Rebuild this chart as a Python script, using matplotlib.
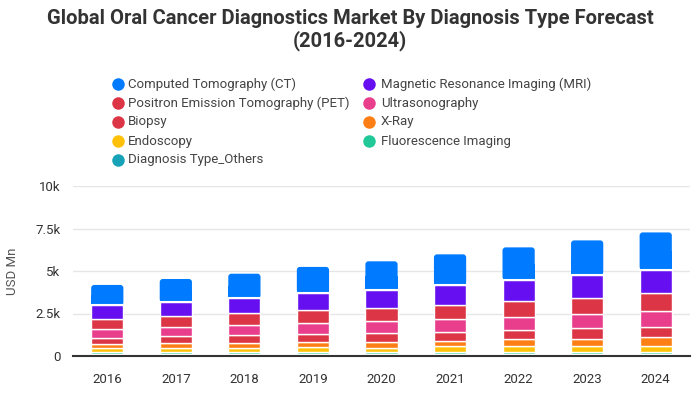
import matplotlib
matplotlib.use("Agg")
import matplotlib.pyplot as plt
from matplotlib.patches import FancyBboxPatch, Rectangle
from matplotlib.lines import Line2D
from matplotlib.ticker import FixedLocator

plt.rcParams["font.family"] = ["Roboto", "DejaVu Sans"]

years = ["2016", "2017", "2018", "2019", "2020", "2021", "2022", "2023", "2024"]

# USD Mn (stacked bottom -> top)
others = [100, 100, 100, 100, 100, 100, 100, 100, 100]
fluorescence = [120, 120, 120, 120, 150, 150, 150, 150, 150]
endoscopy = [230, 250, 250, 290, 240, 320, 320, 360, 360]
xray = [240, 290, 290, 310, 350, 330, 410, 410, 490]
biopsy = [350, 420, 460, 470, 530, 530, 570, 650, 630]
ultrasonography = [530, 530, 580, 630, 710, 770, 760, 820, 900]
pet = [590, 620, 710, 790, 760, 820, 940, 940, 1060]
mri = [820, 850, 880, 1000, 1060, 1180, 1240, 1350, 1390]
ct = [1200, 1350, 1450, 1530, 1670, 1780, 1900, 2020, 2190]

# legend order (top of stack first)
series = [
    ("Computed Tomography (CT)", ct, "#007bff"),
    ("Magnetic Resonance Imaging (MRI)", mri, "#6610f2"),
    ("Positron Emission Tomography (PET)", pet, "#dc3545"),
    ("Ultrasonography", ultrasonography, "#e83e8c"),
    ("Biopsy", biopsy, "#dc3545"),
    ("X-Ray", xray, "#fd7e14"),
    ("Endoscopy", endoscopy, "#ffc107"),
    ("Fluorescence Imaging", fluorescence, "#20c997"),
    ("Diagnosis Type_Others", others, "#17a2b8"),
]

fig = plt.figure(figsize=(7, 4), dpi=100)
ax = fig.add_axes([73 / 700, 1 - 356 / 400, 617 / 700, 170 / 400])

x = list(range(len(years)))
width = 0.47
bottom = [0] * len(years)
for name, vals, color in reversed(series):
    bars = ax.bar(x, vals, width, bottom=bottom, color=color,
                  edgecolor="white", linewidth=1, zorder=3)
    if name.startswith("Computed"):
        # rounded top corners for the top segment
        rx = 0.045
        ry = 180
        for p in bars.patches:
            p.set_visible(False)
            bx, by, bw, bh = p.get_x(), p.get_y(), p.get_width(), p.get_height()
            ax.add_patch(FancyBboxPatch((bx, by), bw, bh,
                                        boxstyle=f"round,pad=0,rounding_size={rx}",
                                        mutation_aspect=ry / rx,
                                        facecolor=color, edgecolor="none", zorder=3))
            ax.add_patch(Rectangle((bx, by), bw, bh / 2, facecolor=color,
                                   edgecolor="none", zorder=3))
            ax.plot([bx, bx + bw], [by, by], color="white", lw=1.5, zorder=4)
    bottom = [b + v for b, v in zip(bottom, vals)]

ax.set_xlim(-0.5, len(years) - 0.5)
ax.set_ylim(0, 10000)
ax.set_xticks(x)
ax.set_xticklabels(years)
ax.yaxis.set_major_locator(FixedLocator([0, 2500, 5000, 7500, 10000]))
ax.set_yticklabels(["0", "2.5k", "5k", "7.5k", "10k"])
ax.tick_params(length=0, labelsize=9.5, colors="#333333", pad=9)
ax.tick_params(axis="x", pad=12)
ax.grid(axis="y", color="#e6e6e6", linewidth=1, zorder=0)
for s in ["top", "right", "left"]:
    ax.spines[s].set_visible(False)
ax.spines["bottom"].set_color("#333333")
ax.spines["bottom"].set_linewidth(1.5)
ax.spines["bottom"].set_zorder(5)
ax.set_ylabel("USD Mn", fontsize=9.5, color="#555555", labelpad=12)

# legend as two columns of circle markers
cols = [(118, 128), (369, 381)]
for i, (name, vals, color) in enumerate(series):
    col = i % 2
    row = i // 2
    mx, tx = cols[col]
    yy = 1 - (84 + 19 * row) / 400
    fig.add_artist(Line2D([mx / 700], [yy], marker="o", markersize=9,
                          color=color, markeredgewidth=0,
                          transform=fig.transFigure))
    fig.text(tx / 700, yy, name, color="#444444", fontsize=9.5,
             ha="left", va="center")

fig.text(0.5, 1 - 30 / 400,
         "Global Oral Cancer Diagnostics Market By Diagnosis Type Forecast\n(2016-2024)",
         ha="center", va="center", fontsize=14.5, fontweight="bold",
         color="#333333", linespacing=1.2)

fig.savefig("out.png", dpi=100)
